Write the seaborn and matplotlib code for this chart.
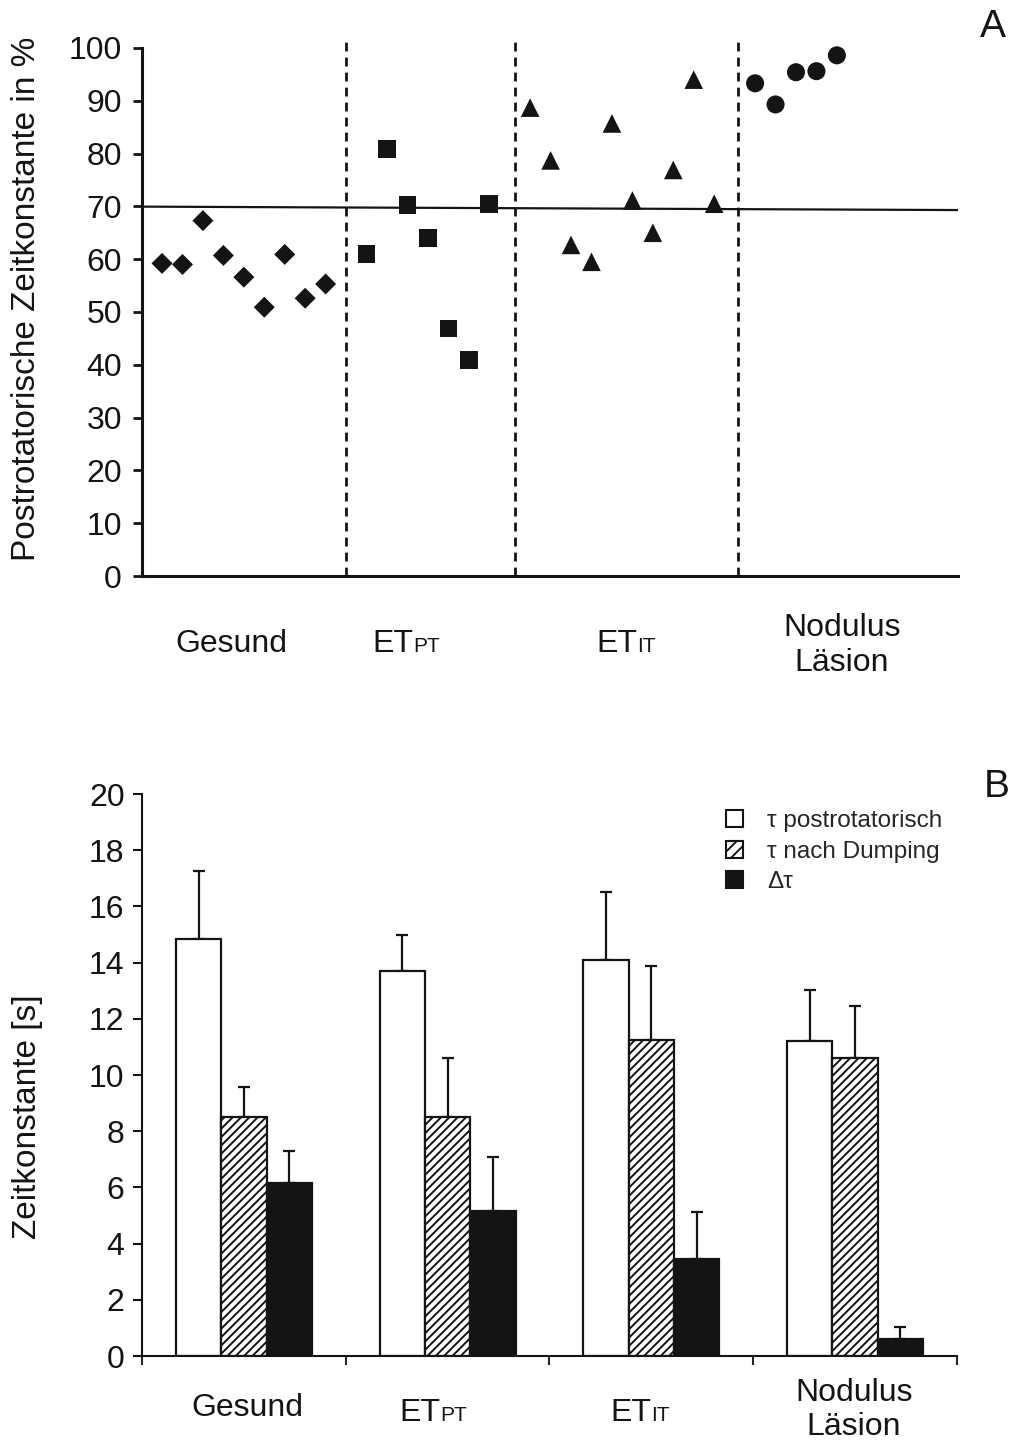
import numpy as np
import pandas as pd
import matplotlib
matplotlib.use("Agg")
import matplotlib.pyplot as plt
import matplotlib.transforms as mtransforms
from matplotlib.patches import Patch
import seaborn as sns

sns.set_theme(style="ticks")
plt.rcParams['font.family'] = ['Liberation Sans', 'DejaVu Sans']
plt.rcParams['hatch.linewidth'] = 1.4
plt.rcParams['hatch.color'] = 'black'

# ---- Panel A: postrotatory time constant in % per subject ----
gesund_pct = [59.2, 59.0, 67.3, 60.7, 56.6, 50.9, 60.9, 52.6, 55.3]
etpt_pct = [61.0, 80.9, 70.2, 64.0, 46.9, 40.9, 70.4]
etit_pct = [88.7, 78.7, 62.7, 59.5, 85.7, 71.1, 65.0, 76.9, 94.0, 70.5]
nodulus_pct = [93.3, 89.3, 95.4, 95.6, 98.6]
reference_pct = [69.95, 69.3]

group_names = ["Gesund", "ET_PT", "ET_IT", "Nodulus"]
group_markers = ["D", "s", "^", "o"]

# ---- Panel B: mean time constants [s] with SD ----
categories = ["Gesund", "ET_PT", "ET_IT", "Nodulus"]
series_labels = ["\u03c4 postrotatorisch", "\u03c4 nach Dumping", "\u0394\u03c4"]
tau_post = [14.85, 13.7, 14.1, 11.2]
tau_post_sd = [2.4, 1.3, 2.4, 1.82]
tau_dump = [8.5, 8.5, 11.25, 10.6]
tau_dump_sd = [1.07, 2.1, 2.62, 1.84]
delta_tau = [6.15, 5.15, 3.45, 0.6]
delta_tau_sd = [1.14, 1.92, 1.68, 0.42]

fig = plt.figure(figsize=(10.12, 14.44), dpi=100)
axA = fig.add_axes([0.1403, 0.6011, 0.8063, 0.3657])
axB = fig.add_axes([0.1403, 0.0609, 0.8053, 0.3892])

# ---------------- Panel A ----------------
pct_groups = [gesund_pct, etpt_pct, etit_pct, nodulus_pct]
rows = []
start = 0
for name, vals in zip(group_names, pct_groups):
    for i, v in enumerate(vals):
        rows.append({"group": name, "x": start + i, "pct": v})
    start += len(vals) + 1
dfA = pd.DataFrame(rows)

marker_sizes = {"D": 10.7, "s": 12.7, "^": 13.4, "o": 13.0}
for name, mk in zip(group_names, group_markers):
    sub = dfA[dfA["group"] == name]
    sns.scatterplot(data=sub, x="x", y="pct", marker=mk, s=marker_sizes[mk] ** 2,
                    color="#141414", edgecolor="none", linewidth=0, ax=axA,
                    legend=False, zorder=3, clip_on=False)

xmin, xmax = -0.98, 38.92
axA.set_xlim(xmin, xmax)
axA.set_ylim(0, 100)
axA.plot([xmin, xmax], reference_pct, color="#141414", lw=1.6, zorder=2)

# group separators
for xs in [9.0, 17.26, 28.17]:
    axA.plot([xs, xs], [0, 102], color="#141414", lw=2.0, ls=(0, (3.2, 2.2)),
             clip_on=False, zorder=1)

axA.set_yticks(np.arange(0, 101, 10))
axA.set_xticks([])
axA.tick_params(axis="y", direction="out", length=6.5, width=2, pad=8,
                labelsize=23, colors="#141414")
for sp in ["top", "right"]:
    axA.spines[sp].set_visible(False)
for sp in ["left", "bottom"]:
    axA.spines[sp].set_linewidth(2.2)
    axA.spines[sp].set_color("#141414")
axA.set_xlabel("")
axA.set_ylabel("")

transA = mtransforms.blended_transform_factory(axA.transData, axA.transAxes)
transB = mtransforms.blended_transform_factory(axB.transData, axB.transAxes)


def sub_label(ax, trans, x, y, main, sub, split_pt, size=23, subsize=15):
    ax.annotate(main, xy=(x, y), xycoords=trans, xytext=(split_pt, 0),
                textcoords="offset points", ha="right", va="baseline",
                fontsize=size, color="#141414", annotation_clip=False)
    ax.annotate(sub, xy=(x, y), xycoords=trans, xytext=(split_pt, 0),
                textcoords="offset points", ha="left", va="baseline",
                fontsize=subsize, color="#141414", annotation_clip=False)


yA = -0.144
axA.text(3.37, yA, "Gesund", transform=transA, ha="center", va="baseline",
         fontsize=23, color="#141414")
sub_label(axA, transA, 12.0, yA, "ET", "PT", 4.3)
sub_label(axA, transA, 22.7, yA, "ET", "IT", 8.0)
axA.text(33.25, -0.132, "Nodulus\nL\u00e4sion", transform=transA, ha="center",
         va="center", fontsize=23, color="#141414", linespacing=1.2)

fig.text(27 / 1012, 0.793, "Postrotatorische Zeitkonstante in %", rotation=90,
         ha="center", va="center", fontsize=24, color="#141414")
fig.text(0.981, 0.981, "A", ha="center", va="center", fontsize=28, color="#141414")

# ---------------- Panel B ----------------
recs = []
for lab, vals in zip(series_labels, [tau_post, tau_dump, delta_tau]):
    for c, v in zip(categories, vals):
        recs.append({"cat": c, "series": lab, "val": v})
dfB = pd.DataFrame(recs)

palette = {series_labels[0]: "white", series_labels[1]: "white",
           series_labels[2]: "#141414"}
sns.barplot(data=dfB, x="cat", y="val", hue="series", order=categories,
            hue_order=series_labels, palette=palette, saturation=1,
            errorbar=None, width=0.667, gap=0, edgecolor="#141414",
            linewidth=1.6, legend=False, ax=axB, zorder=2)

for bar in axB.containers[1]:
    bar.set_hatch("////")

sds = [tau_post_sd, tau_dump_sd, delta_tau_sd]
means = [tau_post, tau_dump, delta_tau]
for cont, m, sd in zip(axB.containers, means, sds):
    xs = [b.get_x() + b.get_width() / 2 for b in cont]
    axB.errorbar(xs, m, yerr=[np.zeros(len(sd)), sd], fmt="none",
                 ecolor="#141414", elinewidth=1.6, capsize=4.5, capthick=1.6,
                 zorder=1)

axB.set_xlim(-0.5, 3.5)
axB.set_ylim(0, 20)
axB.set_yticks(np.arange(0, 21, 2))
axB.set_xticks([-0.5, 0.5, 1.5, 2.5, 3.5])
axB.set_xticklabels([])
axB.tick_params(axis="y", direction="out", length=6.5, width=1.5, pad=6,
                labelsize=23, colors="#141414")
axB.tick_params(axis="x", direction="out", length=6.5, width=1.5)
for sp in ["top", "right"]:
    axB.spines[sp].set_visible(False)
for sp in ["left", "bottom"]:
    axB.spines[sp].set_linewidth(1.5)
    axB.spines[sp].set_color("#141414")
axB.set_xlabel("")
axB.set_ylabel("")

yB = -0.107
axB.text(0.015, yB, "Gesund", transform=transB, ha="center", va="baseline",
         fontsize=23, color="#141414")
sub_label(axB, transB, 0.936, yB - 0.008, "ET", "PT", 4.3)
sub_label(axB, transB, 1.946, yB - 0.008, "ET", "IT", 8.0)
axB.text(2.995, -0.096, "Nodulus\nL\u00e4sion", transform=transB, ha="center",
         va="center", fontsize=23, color="#141414", linespacing=1.2)

fig.text(28 / 1012, 0.227, "Zeitkonstante [s]", rotation=90, ha="center",
         va="center", fontsize=24, color="#141414")
fig.text(0.985, 0.455, "B", ha="center", va="center", fontsize=28, color="#141414")

handles = [Patch(facecolor="white", edgecolor="#141414", linewidth=1.5),
           Patch(facecolor="white", edgecolor="#141414", linewidth=1.5, hatch="///"),
           Patch(facecolor="#141414", edgecolor="#141414", linewidth=1.5)]
fig.legend(handles, series_labels, loc="upper left",
           bbox_to_anchor=(726 / 1012, (1444 - 810) / 1444), frameon=False,
           fontsize=17.5, handlelength=0.7, handleheight=0.7,
           handletextpad=1.0, labelspacing=0.35, borderpad=0, borderaxespad=0)

fig.savefig("out.png", dpi=100, facecolor="white")
